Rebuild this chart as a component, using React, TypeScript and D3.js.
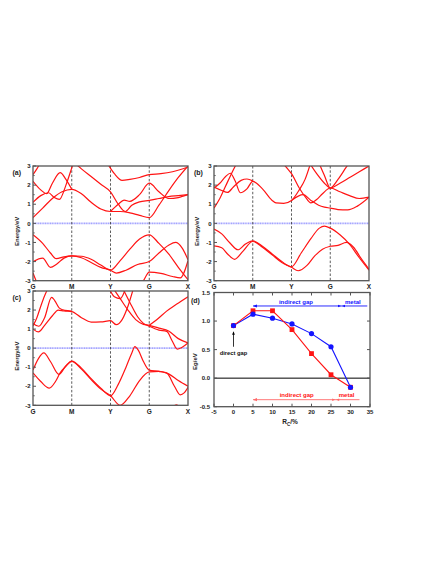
import React from "react";
import * as d3 from "d3";

type Band = [number, number][];

const kLabels = ["G", "M", "Y", "G", "X"];
const kTicks = [0, 1, 2, 3, 4];
const energyTicks = [-3, -2, -1, 0, 1, 2, 3];
const energyMinor = [-2.5, -1.5, -0.5, 0.5, 1.5, 2.5];

// Panel (a)
const bandA1: Band = [[0,-0.6],[0.25,-1.05],[0.45,-1.55],[0.6,-1.85],[0.8,-1.75],[1,-1.7],[1.25,-1.72],[1.5,-1.88],[1.75,-2.18],[2,-2.45],[2.25,-1.95],[2.5,-1.35],[2.75,-0.82],[3,-0.6],[3.25,-1.05],[3.5,-1.6],[3.75,-2.3],[4,-2.95]];
const bandA2: Band = [[0,-2.0],[0.25,-1.82],[0.45,-2.3],[0.6,-2.15],[0.8,-1.82],[1,-1.7],[1.25,-1.8],[1.5,-2.05],[1.75,-2.3],[2,-2.45],[2.15,-2.6],[2.4,-2.45],[2.7,-2.15],[3,-2.0],[3.25,-1.55],[3.5,-1.15],[3.68,-1.0],[3.85,-1.3],[4,-1.9]];
const bandA3: Band = [[0,-2.6],[0.15,-3.3],[0.3,-3.6],[2.6,-3.6],[2.85,-3.0],[3,-2.55],[3.3,-2.62],[3.6,-2.78],[3.8,-2.85],[4,-1.95]];
const bandA4: Band = [[0,0.3],[0.25,0.8],[0.5,1.3],[0.75,1.65],[1,1.78],[1.25,1.55],[1.5,1.1],[1.75,0.75],[2,0.62],[2.25,0.62],[2.5,0.55],[2.75,0.42],[3,0.3],[3.25,0.95],[3.5,1.7],[3.75,2.4],[4,3.0]];
const bandA5: Band = [[1.05,3.2],[1.25,2.85],[1.5,2.45],[1.75,2.05],[2,1.65],[2.2,1.0],[2.38,0.62],[2.55,0.95],[2.75,1.12],[3,1.2],[3.25,1.3],[3.5,1.4],[3.75,1.45],[4,1.5]];
const bandA6: Band = [[2,0.62],[2.2,1.0],[2.35,1.22],[2.5,1.15],[2.75,1.5],[3,2.1],[3.25,1.65],[3.5,1.3],[3.75,1.35],[4,1.5]];
const bandA7: Band = [[1.9,3.2],[2.1,2.6],[2.3,2.25],[2.5,2.3],[2.75,2.4],[3,2.55],[3.3,2.6],[3.6,2.7],[4,2.95]];
const bandA8: Band = [[0,1.1],[0.2,1.45],[0.4,1.6],[0.55,1.35],[0.68,1.25],[0.85,2.0],[1,2.9],[1.05,3.2]];
const bandA9: Band = [[0,2.2],[0.2,1.75],[0.35,1.55],[0.5,2.1],[0.7,2.65],[0.85,2.3],[1,1.78]];
const bandA10: Band = [[0,2.55],[0.1,2.85],[0.2,3.2]];

// Panel (b)
const bandB1: Band = [[0,-0.3],[0.2,-0.55],[0.4,-1.0],[0.62,-1.38],[0.8,-1.1],[1,-0.92],[1.25,-1.2],[1.5,-1.6],[1.75,-2.0],[2,-2.27],[2.25,-1.55],[2.5,-0.8],[2.72,-0.25],[2.85,-0.15],[3,-0.25],[3.25,-0.6],[3.5,-1.1],[3.75,-1.8],[4,-2.45]];
const bandB2: Band = [[0,-1.18],[0.2,-1.28],[0.35,-1.6],[0.53,-1.88],[0.75,-1.45],[1,-0.95],[1.25,-1.25],[1.5,-1.65],[1.75,-2.05],[2,-2.3],[2.17,-2.48],[2.4,-2.2],[2.6,-1.7],[2.8,-1.35],[3,-1.2],[3.2,-1.15],[3.42,-1.0],[3.6,-1.25],[3.8,-1.85],[4,-2.4]];
const bandB3: Band = [[0,-3.0],[0.15,-3.4],[2.85,-3.4],[3,-3.0],[3.15,-3.4],[3.85,-3.4],[4,-3.0]];
const bandB4: Band = [[0,0.8],[0.15,1.3],[0.3,1.95],[0.45,2.6],[0.6,3.2]];
const bandB5: Band = [[0,1.85],[0.15,2.1],[0.3,2.45],[0.42,2.62],[0.55,2.2],[0.68,1.6],[0.85,1.8],[1,2.2],[1.25,1.8],[1.5,1.2],[1.6,1.07],[1.8,1.05],[2,1.2],[2.2,1.75],[2.35,2.3],[2.5,3.2]];
const bandB6: Band = [[0,1.9],[0.2,1.72],[0.35,1.62],[0.5,1.9],[0.7,2.25],[0.85,2.32],[1,2.22]];
const bandB7: Band = [[1.75,3.2],[1.9,2.85],[2,2.6],[2.2,1.85],[2.35,1.4],[2.5,1.07],[2.65,1.25],[2.8,1.55],[3,1.85],[3.25,1.65],[3.5,1.45],[3.75,1.3],[4,1.37]];
const bandB8: Band = [[2,1.2],[2.3,1.5],[2.5,1.2],[2.7,0.95],[2.85,0.85],[3,0.8],[3.2,0.72],[3.45,0.7],[3.7,0.9],[4,1.37]];
const bandB9: Band = [[2.45,3.2],[2.65,2.6],[2.85,2.1],[3,1.85],[3.25,2.1],[3.5,2.4],[3.75,2.7],[4,3.0]];
const bandB10: Band = [[2.7,3.2],[2.85,2.5],[3,1.85],[3.2,2.3],[3.4,2.9],[3.5,3.2]];

// Panel (c)
const bandC1: Band = [[0,-1.15],[0.14,-0.55],[0.28,-0.25],[0.45,-0.7],[0.67,-1.38],[0.85,-0.92],[1,-0.68],[1.25,-1.05],[1.5,-1.6],[1.75,-2.1],[2,-2.5],[2.2,-1.9],[2.4,-1.0],[2.55,-0.25],[2.63,0.08],[2.72,-0.12],[2.85,-0.7],[3,-1.15],[3.25,-1.22],[3.5,-1.35],[3.75,-1.7],[4,-2.0]];
const bandC2: Band = [[0,-1.3],[0.2,-1.75],[0.42,-2.1],[0.58,-1.75],[0.7,-1.3],[0.85,-0.95],[1,-0.7],[1.25,-1.1],[1.5,-1.65],[1.75,-2.15],[2,-2.5],[2.25,-3.0],[2.5,-2.5],[2.75,-1.7],[3,-1.25],[3.25,-1.22],[3.45,-1.3],[3.65,-2.0],[3.8,-2.45],[3.9,-2.35],[4,-2.05]];
const bandC3: Band = [[3.5,-3.4],[3.7,-2.97],[3.9,-3.4]];
const bandC4: Band = [[0,1.0],[0.14,0.85],[0.3,1.2],[0.5,1.7],[0.65,2.0],[0.8,1.95],[1,1.92],[1.25,1.6],[1.5,1.37],[1.75,1.38],[2,1.44],[2.15,1.23],[2.3,1.5],[2.45,2.2],[2.6,3.2]];
const bandC5: Band = [[0,1.17],[0.1,1.6],[0.2,2.2],[0.3,2.75],[0.4,3.2]];
const bandC6: Band = [[0,1.3],[0.15,1.15],[0.3,1.6],[0.48,2.67],[0.56,2.5],[0.68,2.1],[0.82,1.98],[1,1.95]];
const bandC7: Band = [[2.05,3.2],[2.25,2.6],[2.45,2.0],[2.65,1.5],[2.85,1.25],[3,1.2],[3.25,1.05],[3.5,0.9],[3.75,0.5],[4,0.27]];
const bandC8: Band = [[2.3,3.2],[2.5,2.4],[2.7,1.65],[2.85,1.3],[3,1.15],[3.25,0.95],[3.45,0.88],[3.6,0.35],[3.72,-0.05],[3.85,0.05],[4,0.27]];
const bandC9: Band = [[3,1.2],[3.2,1.5],[3.44,1.93],[3.7,2.3],[4,2.7]];
const bandC10: Band = [[1.95,3.2],[2.1,2.7],[2.25,2.6],[2.4,3.2]];

const bandsA = [bandA1, bandA2, bandA3, bandA4, bandA5, bandA6, bandA7, bandA8, bandA9, bandA10];
const bandsB = [bandB1, bandB2, bandB3, bandB4, bandB5, bandB6, bandB7, bandB8, bandB9, bandB10];
const bandsC = [bandC1, bandC2, bandC3, bandC4, bandC5, bandC6, bandC7, bandC8, bandC9, bandC10];

// Panel (d)
const rcValues = [0, 5, 10, 15, 20, 25, 30];
const egRed = [0.92, 1.18, 1.18, 0.85, 0.43, 0.06, -0.16];
const egBlue = [0.92, 1.12, 1.05, 0.95, 0.78, 0.55, -0.16];
const rcTicks = [-5, 0, 5, 10, 15, 20, 25, 30, 35];
const egTicks = [-0.5, 0.0, 0.5, 1.0, 1.5];

const FONT = "'Liberation Sans', Arial, sans-serif";
const RED = "#ff1414";
const BLUE = "#1414ff";
const FRAME = "#555";

function BandPanel(props: { bands: Band[]; left: number; right: number; top: number; bottom: number; label: string; labelX: number; yLabelX: number; id: string }) {
  const { bands, left, right, top, bottom, label, labelX, yLabelX, id } = props;
  const xs = d3.scaleLinear().domain([0, 4]).range([left, right]);
  const ys = d3.scaleLinear().domain([-3, 3]).range([bottom, top]);
  const line = d3.line<[number, number]>().x((d) => xs(d[0])).y((d) => ys(d[1])).curve(d3.curveMonotoneX);
  const midY = (top + bottom) / 2 + 8;
  return (
    <g>
      <defs>
        <clipPath id={id}>
          <rect x={left} y={top} width={right - left} height={bottom - top} />
        </clipPath>
      </defs>
      <line x1={left} x2={right} y1={ys(0)} y2={ys(0)} stroke="#a4a4ff" strokeWidth={1.9} strokeDasharray="1.2,0.5" />
      {kTicks.slice(1, 4).map((k) => (
        <line key={k} x1={xs(k)} x2={xs(k)} y1={top} y2={bottom} stroke="#333" strokeWidth={0.8} strokeDasharray="2.5,1.8" />
      ))}
      <g clipPath={`url(#${id})`}>
        {bands.map((b, i) => (
          <path key={i} d={line(b) || ""} fill="none" stroke={RED} strokeWidth={1.2} />
        ))}
      </g>
      <rect x={left} y={top} width={right - left} height={bottom - top} fill="none" stroke={FRAME} strokeWidth={1.3} />
      {energyTicks.map((e) => (
        <g key={e}>
          <line x1={left} x2={left + 3} y1={ys(e)} y2={ys(e)} stroke={FRAME} strokeWidth={1} />
          <text x={left - 2.5} y={ys(e) + 2.2} textAnchor="end" fontSize={6} fontWeight="bold" fontFamily={FONT} fill="#222">{e}</text>
        </g>
      ))}
      {energyMinor.map((e) => (
        <line key={e} x1={left} x2={left + 1.8} y1={ys(e)} y2={ys(e)} stroke={FRAME} strokeWidth={0.8} />
      ))}
      {kTicks.map((k, i) => (
        <text key={i} x={xs(k)} y={bottom + 8.5} textAnchor="middle" fontSize={6.5} fontWeight="bold" fontFamily={FONT} fill="#222">{kLabels[i]}</text>
      ))}
      <text transform={`translate(${yLabelX},${midY}) rotate(-90)`} textAnchor="middle" fontSize={6} fontWeight="bold" fontFamily={FONT} fill="#222">Energy/eV</text>
      <text x={labelX} y={top + 8.5} fontSize={7} fontWeight="bold" fontFamily={FONT} fill="#222">{label}</text>
    </g>
  );
}

function GapPanel() {
  const left = 214, right = 370, top = 292.5, bottom = 406.7;
  const xs = d3.scaleLinear().domain([-5, 35]).range([left, right]);
  const ys = d3.scaleLinear().domain([-0.5, 1.5]).range([bottom, top]);
  const redPts: [number, number][] = rcValues.map((r, i) => [r, egRed[i]]);
  const bluePts: [number, number][] = rcValues.map((r, i) => [r, egBlue[i]]);
  const line = d3.line<[number, number]>().x((d) => xs(d[0])).y((d) => ys(d[1]));
  const yBlueArrow = ys(1.264);
  const yRedArrow = ys(-0.377);
  const blueStart = xs(5), blueEnd = xs(34.3), blueMid = xs(27.7);
  const redStart = xs(5), redEnd = xs(32.3), redMid = xs(26.2);
  const pink = "#ff6a6a";
  return (
    <g>
      <line x1={left} x2={right} y1={ys(0)} y2={ys(0)} stroke="#000" strokeWidth={1} />
      <path d={line(bluePts) || ""} fill="none" stroke={BLUE} strokeWidth={1.1} />
      <path d={line(redPts) || ""} fill="none" stroke={RED} strokeWidth={1.1} />
      {redPts.map((p, i) => (
        <rect key={i} x={xs(p[0]) - 2.4} y={ys(p[1]) - 2.4} width={4.8} height={4.8} fill={RED} />
      ))}
      {bluePts.map((p, i) => (
        <circle key={i} cx={xs(p[0])} cy={ys(p[1])} r={2.6} fill={BLUE} />
      ))}
      {/* blue annotation */}
      <line x1={blueStart} x2={blueEnd} y1={yBlueArrow} y2={yBlueArrow} stroke={BLUE} strokeWidth={0.9} />
      <path d={`M${blueStart},${yBlueArrow} l4,-1.6 l0,3.2 z`} fill={BLUE} />
      <path d={`M${blueMid - 0.5},${yBlueArrow} l-3,-1.2 l0,2.4 z`} fill={BLUE} />
      <path d={`M${blueMid + 0.5},${yBlueArrow} l3,-1.2 l0,2.4 z`} fill={BLUE} />
      <text x={xs(16)} y={yBlueArrow - 2.3} textAnchor="middle" fontSize={6} fontWeight="bold" fontFamily={FONT} fill={BLUE}>indirect gap</text>
      <text x={xs(30.6)} y={yBlueArrow - 2.3} textAnchor="middle" fontSize={6} fontWeight="bold" fontFamily={FONT} fill={BLUE}>metal</text>
      {/* red annotation */}
      <line x1={redStart} x2={redEnd} y1={yRedArrow} y2={yRedArrow} stroke={pink} strokeWidth={0.9} />
      <path d={`M${redStart},${yRedArrow} l4,-1.6 l0,3.2 z`} fill={pink} />
      <path d={`M${redMid - 0.5},${yRedArrow} l-3,-1.2 l0,2.4 z`} fill={pink} />
      <path d={`M${redMid + 0.5},${yRedArrow} l3,-1.2 l0,2.4 z`} fill={pink} />
      <text x={xs(16.2)} y={yRedArrow - 3} textAnchor="middle" fontSize={6} fontWeight="bold" fontFamily={FONT} fill={RED}>indirect gap</text>
      <text x={xs(29)} y={yRedArrow - 3} textAnchor="middle" fontSize={6} fontWeight="bold" fontFamily={FONT} fill={RED}>metal</text>
      {/* direct gap */}
      <line x1={xs(0)} x2={xs(0)} y1={ys(0.55)} y2={ys(0.8)} stroke="#000" strokeWidth={0.8} />
      <path d={`M${xs(0)},${ys(0.82)} l-1.4,3.5 l2.8,0 z`} fill="#000" />
      <text x={xs(0)} y={ys(0.4)} textAnchor="middle" fontSize={5.8} fontWeight="bold" fontFamily={FONT} fill="#111">direct gap</text>
      {/* frame */}
      <rect x={left} y={top} width={right - left} height={bottom - top} fill="none" stroke={FRAME} strokeWidth={1.3} />
      {rcTicks.map((t) => (
        <g key={t}>
          <line x1={xs(t)} x2={xs(t)} y1={bottom} y2={bottom - 3} stroke={FRAME} strokeWidth={1} />
          <line x1={xs(t)} x2={xs(t)} y1={top} y2={top + 3} stroke={FRAME} strokeWidth={1} />
          <text x={xs(t)} y={bottom + 7.5} textAnchor="middle" fontSize={6} fontWeight="bold" fontFamily={FONT} fill="#222">{t}</text>
        </g>
      ))}
      {egTicks.map((t) => (
        <g key={t}>
          <line x1={left} x2={left + 3} y1={ys(t)} y2={ys(t)} stroke={FRAME} strokeWidth={1} />
          <line x1={right} x2={right - 3} y1={ys(t)} y2={ys(t)} stroke={FRAME} strokeWidth={1} />
          <text x={left - 4} y={ys(t) + 2.2} textAnchor="end" fontSize={6} fontWeight="bold" fontFamily={FONT} fill="#222">{t.toFixed(1)}</text>
        </g>
      ))}
      <text x={xs(14.5)} y={bottom + 17} textAnchor="middle" fontSize={6.5} fontWeight="bold" fontFamily={FONT} fill="#222">
        R<tspan fontSize={4.5} dy={2}>C</tspan><tspan dy={-2}>/%</tspan>
      </text>
      <text transform={`translate(197,${(top + bottom) / 2 + 12}) rotate(-90)`} textAnchor="middle" fontSize={6} fontWeight="bold" fontFamily={FONT} fill="#222">Eg/eV</text>
      <text x={191} y={top + 10} fontSize={7} fontWeight="bold" fontFamily={FONT} fill="#222">(d)</text>
    </g>
  );
}

export default function App() {
  return (
    <svg width={436} height={564} style={{ position: "absolute", left: 0, top: 0, background: "#fff" }}>
      <rect x={0} y={0} width={436} height={564} fill="#fff" />
      <BandPanel id="clipA" bands={bandsA} left={33} right={188} top={166} bottom={280.7} label="(a)" labelX={12.5} yLabelX={19} />
      <BandPanel id="clipB" bands={bandsB} left={214} right={369} top={166} bottom={280.7} label="(b)" labelX={194} yLabelX={199} />
      <BandPanel id="clipC" bands={bandsC} left={33} right={188} top={291} bottom={405.3} label="(c)" labelX={12.5} yLabelX={19} />
      <GapPanel />
    </svg>
  );
}
